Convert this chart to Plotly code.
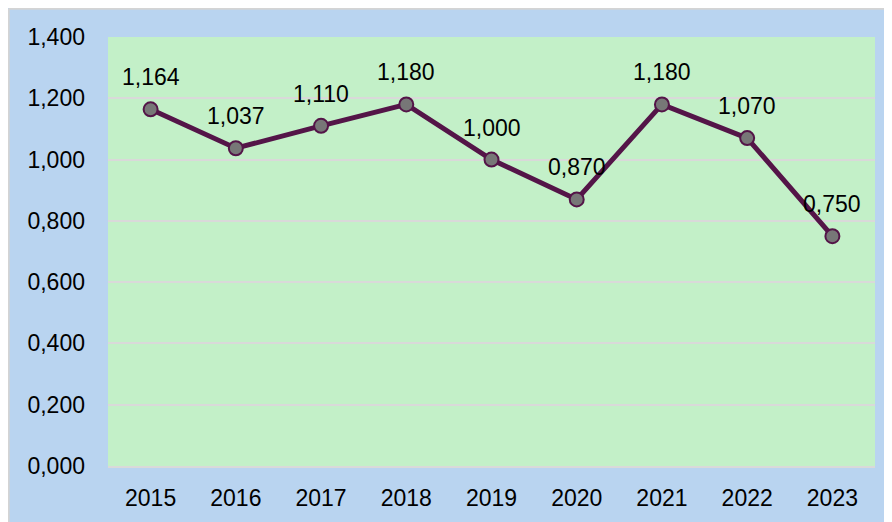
import plotly.graph_objects as go

# Data
years = ["2015", "2016", "2017", "2018", "2019", "2020", "2021", "2022", "2023"]
values = [1.164, 1.037, 1.110, 1.180, 1.000, 0.870, 1.180, 1.070, 0.750]
y_ticks = [0.0, 0.2, 0.4, 0.6, 0.8, 1.0, 1.2, 1.4]

font_name = "Liberation Sans, Arial, sans-serif"

fig = go.Figure()
fig.add_trace(go.Scatter(
    x=years, y=values,
    mode="lines+markers",
    line=dict(color="#541548", width=5),
    marker=dict(size=14, color="#777777", line=dict(color="#541548", width=2)),
    cliponaxis=False,
    showlegend=False,
))

# value labels above each point (category index for x)
for i, v in enumerate(values):
    fig.add_annotation(x=i, y=v, text=f"{v:.3f}".replace(".", ","),
                       showarrow=False, yshift=32,
                       font=dict(family=font_name, size=23, color="black"))

# thin grey border on the left and top of the chart area
fig.add_shape(type="line", xref="paper", yref="paper",
              x0=-0.1295, x1=1.1, y0=1.066, y1=1.066,
              line=dict(color="#d4d4d4", width=2), layer="above")
fig.add_shape(type="line", xref="paper", yref="paper",
              x0=-0.1295, x1=-0.1295, y0=-0.2, y1=1.066,
              line=dict(color="#d4d4d4", width=2), layer="above")

fig.update_layout(
    width=892, height=522,
    margin=dict(l=100, r=25, t=29, b=64),
    paper_bgcolor="#b9d4f0",
    plot_bgcolor="#c3f0c8",
    separators=",.",
    font=dict(family=font_name, size=23, color="black"),
    xaxis=dict(
        type="category",
        range=[-0.5, 8.5],
        showgrid=False,
        showline=True, linecolor="#d9d9d9", linewidth=2,
        ticks="", ticklabelstandoff=10,
    ),
    yaxis=dict(
        range=[0, 1.4],
        tickvals=y_ticks,
        tickformat=".3f",
        showgrid=True, gridcolor="#d9d9d9", gridwidth=2,
        zeroline=False,
        ticks="", ticklabelstandoff=22,
    ),
)

fig.write_html("out.html")
